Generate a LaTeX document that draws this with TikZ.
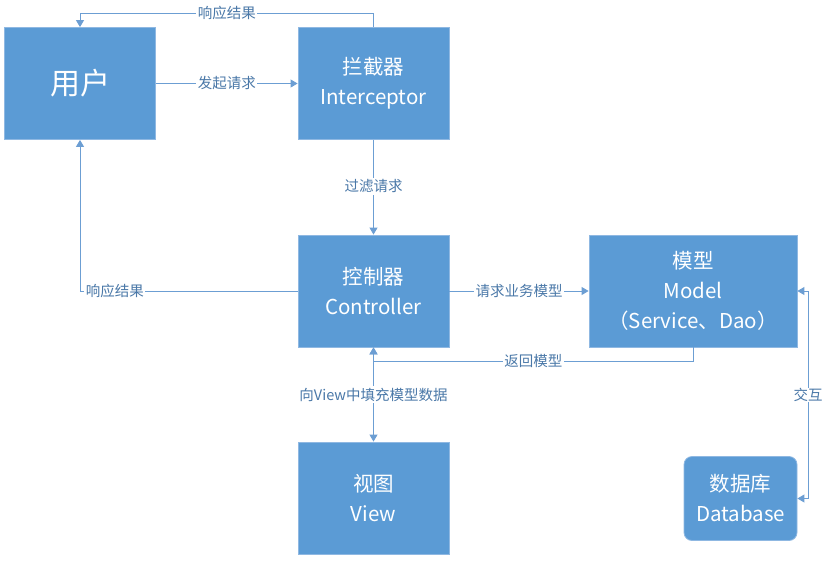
\documentclass[tikz,border=0pt]{standalone}
\usepackage{fontspec}
\setmainfont{Noto Sans CJK SC}
\usetikzlibrary{arrows.meta,positioning}
\definecolor{boxfill}{HTML}{5B9BD5}
\definecolor{boxline}{HTML}{8FB8E2}
\definecolor{wire}{HTML}{6C9ED3}
\definecolor{labtext}{HTML}{4A78A8}
\tikzset{
  blk/.style={draw=boxline, line width=0.8pt, fill=boxfill, text=white, minimum width=151pt, minimum height=112pt, inner sep=0pt, align=center, font=\fontsize{20.5}{30}\selectfont},
  conn/.style={draw=wire, line width=0.9pt},
  arr/.style={conn, -{Triangle[length=7pt,width=8pt]}},
  darr/.style={conn, {Triangle[length=7pt,width=8pt]}-{Triangle[length=7pt,width=8pt]}},
  lab/.style={fill=white, text=labtext, inner sep=1.5pt, font=\fontsize{14.5}{16}\selectfont}
}
\begin{document}
\begin{tikzpicture}[x=1pt,y=-1pt]
\useasboundingbox (0,0) rectangle (836,563);
\node[blk, font=\fontsize{30}{32}\selectfont] (user) at (80,83.5) {用户};
\node[blk] (inter) at (373.5,83.5) {拦截器\\Interceptor};
\node[blk] (ctrl) at (373.5,291) {控制器\\Controller};
\node[blk, minimum width=208pt] (model) at (693,291) {模型\\Model\\（Service、Dao）};
\node[blk] (view) at (373.5,498) {视图\\View};
\node[blk, minimum width=113pt, minimum height=84pt, rounded corners=8pt] (db) at (740.5,498.5) {数据库\\Database};
% coordinates
\coordinate (t1) at (373.5,13);
\coordinate (t2) at (80,13);
\coordinate (l1) at (80,291);
\coordinate (r1) at (693,361);
\coordinate (r2) at (373.5,361);
\coordinate (i1) at (808,291);
\coordinate (i2) at (808,498.5);
% connectors
\draw[arr] (user.east) -- node[lab]{发起请求} (inter.west);
\draw[arr] (inter.north) -- (t1) -- node[lab, pos=0.5]{响应结果} (t2) -- (user.north);
\draw[arr] (inter.south) -- node[lab, pos=0.49]{过滤请求} (ctrl.north);
\draw[arr] (ctrl.west) -- node[lab, pos=0.84]{响应结果} (l1) -- (user.south);
\draw[arr] (ctrl.east) -- node[lab, pos=0.5]{请求业务模型} (model.west);
\draw[arr] (model.south -| r1) -- (r1) -- node[lab, pos=0.5]{返回模型} (r2) -- (ctrl.south);
\draw[darr] (ctrl.south) -- node[lab, pos=0.5]{向View中填充模型数据} (view.north);
\draw[darr] (model.east) -- (i1) -- node[lab, pos=0.5, inner sep=0.5pt]{交互} (i2) -- (db.east);
\end{tikzpicture}
\end{document}
